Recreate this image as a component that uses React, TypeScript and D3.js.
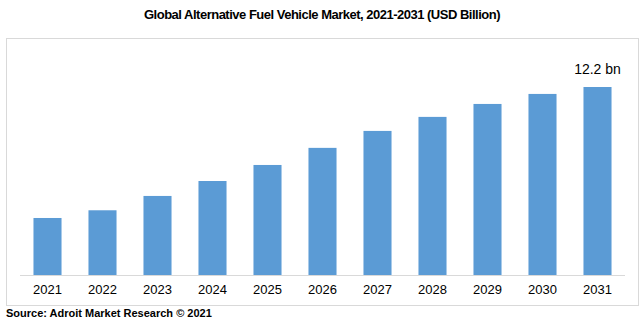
import React from "react";
import * as d3 from "d3";

const years = ["2021","2022","2023","2024","2025","2026","2027","2028","2029","2030","2031"];
const values = [3.7, 4.2, 5.13, 6.1, 7.14, 8.25, 9.35, 10.26, 11.1, 11.75, 12.2];
const lastLabel = "12.2 bn";
const title = "Global Alternative Fuel Vehicle Market, 2021-2031 (USD Billion)";
const source = "Source: Adroit Market Research © 2021";

export default function App() {
  const W = 643, H = 322;
  const x = d3.scaleBand<string>().domain(years).range([20, 625]).paddingInner(0.49).paddingOuter(0.245);
  const y = d3.scaleLinear().domain([0, 12.2]).range([275, 87]);
  const last = years[years.length - 1];
  return (
    <svg width={W} height={H} style={{ position: "absolute", left: 0, top: 0 }} fontFamily="'Liberation Sans', Arial, sans-serif">
      <rect x={0} y={0} width={W} height={H} fill="#fff" />
      <text x={322} y={18.5} textAnchor="middle" fontSize={13} fontWeight="bold" fill="#000" letterSpacing={-0.5}>{title}</text>
      <rect x={6.5} y={38.5} width={632} height={267} fill="none" stroke="#d9d9d9" strokeWidth={1} />
      {years.map((yr, i) => (
        <rect key={yr} x={x(yr)} y={y(values[i])} width={x.bandwidth()} height={y(0) - y(values[i])} fill="#5b9bd5" />
      ))}
      <line x1={20} x2={625} y1={275.5} y2={275.5} stroke="#d9d9d9" strokeWidth={1} />
      {years.map((yr) => (
        <text key={yr} x={(x(yr) ?? 0) + x.bandwidth() / 2} y={294} textAnchor="middle" fontSize={13} fill="#000">{yr}</text>
      ))}
      <text x={(x(last) ?? 0) + x.bandwidth() / 2} y={y(values[values.length - 1]) - 13} textAnchor="middle" fontSize={14} fill="#000">{lastLabel}</text>
      <text x={6} y={317} fontSize={11} fontWeight="bold" fill="#000">{source}</text>
    </svg>
  );
}
